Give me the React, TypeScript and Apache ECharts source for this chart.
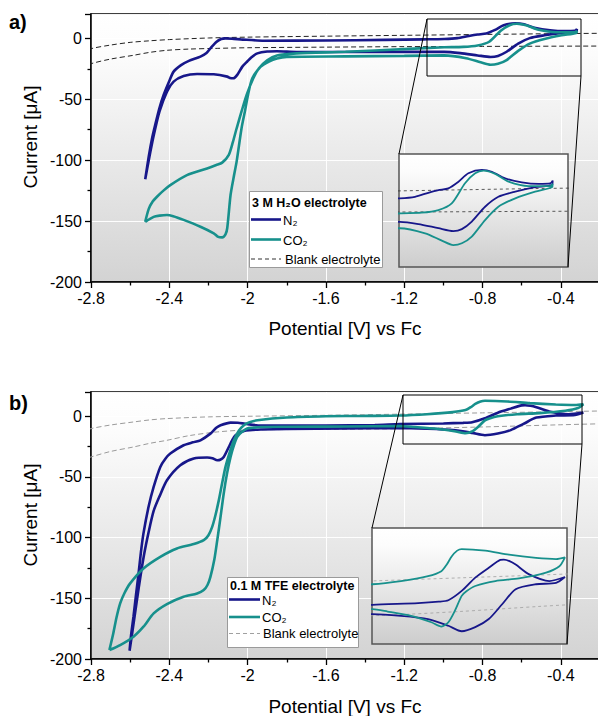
import React, { useEffect, useRef } from "react";
import * as echarts from "echarts";

type P = [number, number];

// ---------- axis ticks ----------
const X_MIN = -2.8;
const X_MAX = -0.2;
const X_STEP = 0.4;
const Y_MIN = -200;
const Y_MAX = 20;
const Y_STEP = 50;

// ---------- panel a) 3 M H2O electrolyte ----------
const N2_A: P[] = [
  [-2.523, -115.6], [-2.505, -97], [-2.488, -82], [-2.472, -71], [-2.45, -57], [-2.429, -46.5],
  [-2.4, -35], [-2.378, -27.3], [-2.34, -22], [-2.3, -18.5], [-2.241, -15], [-2.21, -12],
  [-2.19, -8.2], [-2.16, -3], [-2.135, -0.5], [-2.113, 0], [-2.07, -0.4], [-2.036, -0.8],
  [-1.916, -1.9], [-1.6, -1.8], [-1.3, -1.2], [-1.1, -0.8], [-0.996, -0.5], [-0.929, 0.2],
  [-0.87, 2], [-0.825, 3.2], [-0.781, 4], [-0.736, 7], [-0.692, 10.8], [-0.632, 12.3],
  [-0.588, 11.5], [-0.529, 8.5], [-0.455, 6.7], [-0.381, 6], [-0.329, 6.2], [-0.318, 7.5],
  [-0.321, 5.5], [-0.396, 4.5], [-0.484, 2.5], [-0.559, 0.2], [-0.618, -4.3], [-0.677, -11],
  [-0.721, -14.4], [-0.759, -15.3], [-0.825, -14], [-0.914, -12.1], [-0.996, -11.1],
  [-1.2, -11.1], [-1.5, -11.2], [-1.75, -11.2], [-1.85, -10.6], [-1.9, -10.8], [-1.95, -12.3],
  [-1.98, -15.5], [-2.002, -19], [-2.027, -23.2], [-2.053, -30], [-2.073, -32.8], [-2.09, -32.5],
  [-2.104, -31.4], [-2.173, -29.5], [-2.258, -29.2], [-2.327, -30.9], [-2.378, -35.5],
  [-2.412, -43.7], [-2.45, -60], [-2.48, -80], [-2.505, -100], [-2.523, -115.6],
];

const CO2_A: P[] = [
  [-2.523, -150.6], [-2.505, -140], [-2.485, -134], [-2.463, -130], [-2.43, -125], [-2.395, -120.5],
  [-2.31, -112.3], [-2.207, -106.8], [-2.16, -104], [-2.13, -102], [-2.096, -95.6], [-2.075, -85],
  [-2.056, -73.8], [-2.031, -60], [-2.005, -46.4], [-1.971, -32.8], [-1.942, -24.6], [-1.9, -18],
  [-1.85, -14], [-1.75, -12.3], [-1.5, -11], [-1.2, -8.8], [-0.996, -7.3], [-0.9, -7],
  [-0.825, -5.8], [-0.766, -2.8], [-0.707, 6.3], [-0.662, 10.8], [-0.625, 12], [-0.573, 10.5],
  [-0.514, 7], [-0.425, 5], [-0.329, 5], [-0.318, 6], [-0.321, 4.5], [-0.396, 2.5],
  [-0.484, -0.5], [-0.559, -4.3], [-0.618, -10.3], [-0.677, -17.8], [-0.721, -20.8],
  [-0.759, -21.6], [-0.81, -19.6], [-0.884, -16.3], [-0.996, -14], [-1.2, -14.4], [-1.5, -14.8],
  [-1.8, -15.2], [-1.85, -16.5], [-1.891, -19], [-1.933, -23.2], [-1.976, -32.8], [-1.998, -46.4],
  [-2.014, -60], [-2.031, -73.8], [-2.056, -101], [-2.07, -113], [-2.087, -128.4],
  [-2.104, -155.7], [-2.113, -161], [-2.13, -163.4], [-2.15, -163], [-2.173, -160],
  [-2.241, -154.6], [-2.327, -149], [-2.38, -146], [-2.412, -145], [-2.45, -145.5],
  [-2.48, -146.5], [-2.523, -150.6],
];

const BLANK_A_UP: P[] = [
  [-2.85, -12], [-2.8, -8.5], [-2.7, -5.5], [-2.6, -3.3], [-2.5, -2], [-2.4, -1], [-2.2, 0.3],
  [-2.0, 1], [-1.6, 1.8], [-1.2, 2.5], [-0.8, 3.2], [-0.4, 3.9], [-0.15, 4.2],
];
const BLANK_A_LO: P[] = [
  [-2.85, -24], [-2.8, -20.8], [-2.7, -17], [-2.583, -13.9], [-2.5, -11.5], [-2.412, -9.8],
  [-2.3, -8.8], [-2.155, -8.2], [-2.0, -7.7], [-1.6, -7.2], [-1.2, -6.8], [-0.8, -6.6],
  [-0.4, -6.4], [-0.15, -6.3],
];

// ---------- panel b) 0.1 M TFE electrolyte ----------
const N2_B: P[] = [
  [-2.603, -193.2], [-2.595, -180], [-2.583, -165.2], [-2.57, -147], [-2.557, -129.5],
  [-2.545, -112], [-2.532, -96.5], [-2.506, -74.6], [-2.48, -58.2], [-2.446, -41.7],
  [-2.42, -35], [-2.395, -30.7], [-2.327, -23.9], [-2.28, -21.5], [-2.241, -19.8], [-2.19, -14.3],
  [-2.16, -9.5], [-2.138, -7.4], [-2.087, -5.2], [-2.05, -5.4], [-2.019, -6], [-1.95, -7.4],
  [-1.6, -7.6], [-1.35, -7.2], [-1.223, -6.5], [-1.0, -5.9], [-0.9, -5.4], [-0.853, -4.9],
  [-0.788, -1.7], [-0.722, 2.9], [-0.656, 6.3], [-0.6, 9], [-0.583, 9.1], [-0.555, 8.6],
  [-0.525, 7.4], [-0.459, 4], [-0.361, 1.7], [-0.285, 3.1], [-0.328, 1.1], [-0.426, 0.6],
  [-0.525, -1.1], [-0.591, -6.3], [-0.656, -11.4], [-0.722, -14.2], [-0.788, -15.6],
  [-0.853, -13.7], [-0.952, -11.4], [-1.084, -10.3], [-1.223, -9.7], [-1.5, -10], [-1.8, -10.5],
  [-1.933, -10.9], [-1.99, -11.4], [-2.019, -12.1], [-2.062, -15.6], [-2.08, -20], [-2.096, -25.3],
  [-2.122, -33.5], [-2.14, -35.8], [-2.155, -36.2], [-2.18, -34.5], [-2.207, -34], [-2.275, -34.8],
  [-2.344, -40.3], [-2.412, -52.7], [-2.45, -66], [-2.48, -78], [-2.505, -95], [-2.53, -115],
  [-2.555, -140], [-2.58, -168], [-2.603, -193.2],
];

const CO2_B: P[] = [
  [-2.706, -192.6], [-2.686, -178.8], [-2.67, -166], [-2.651, -154.2], [-2.63, -146], [-2.6, -137.7],
  [-2.532, -125.4], [-2.446, -115.8], [-2.361, -108.9], [-2.275, -105.3], [-2.224, -102.1],
  [-2.2, -98], [-2.181, -91.1], [-2.165, -82], [-2.147, -69.1], [-2.13, -55], [-2.113, -41.7],
  [-2.09, -29], [-2.07, -19.8], [-2.045, -12], [-2.019, -7.4], [-1.99, -5], [-1.95, -3.3],
  [-1.8, -1], [-1.6, 0], [-1.4, 0.3], [-1.223, 0.6], [-1.084, 1.7], [-0.952, 3.4], [-0.887, 5.1],
  [-0.86, 7.5], [-0.837, 10.2], [-0.81, 12.2], [-0.788, 12.75], [-0.673, 12.2], [-0.558, 10.8],
  [-0.426, 9.7], [-0.328, 9.3], [-0.285, 9.9], [-0.312, 6.8], [-0.377, 4.6], [-0.509, 2.6],
  [-0.624, 1.7], [-0.722, 0], [-0.765, -1.8], [-0.788, -3.4], [-0.821, -8.5], [-0.853, -12.5],
  [-0.887, -14], [-0.936, -12.5], [-1.034, -10.3], [-1.149, -8.8], [-1.223, -8], [-1.5, -8.4],
  [-1.8, -8.6], [-1.933, -8.8], [-1.975, -9.5], [-2.002, -10.1], [-2.03, -13], [-2.053, -17],
  [-2.07, -24], [-2.087, -33.5], [-2.105, -47], [-2.122, -63.6], [-2.14, -85], [-2.155, -102],
  [-2.17, -118], [-2.19, -132.3], [-2.205, -139], [-2.224, -143.2], [-2.258, -146],
  [-2.327, -148.7], [-2.412, -154.7], [-2.48, -162.4], [-2.532, -173.4], [-2.583, -181.6],
  [-2.651, -188.5], [-2.706, -192.6],
];

const BLANK_B_UP: P[] = [
  [-2.85, -13], [-2.8, -10.2], [-2.7, -7.2], [-2.583, -4.7], [-2.5, -3], [-2.412, -1.9],
  [-2.2, -0.5], [-2.0, 0], [-1.6, 0.8], [-1.2, 1.8], [-0.8, 2.8], [-0.4, 3.8], [-0.15, 4.5],
];
const BLANK_B_LO: P[] = [
  [-2.85, -36], [-2.8, -33.5], [-2.7, -29], [-2.583, -25.3], [-2.5, -22.3], [-2.412, -19.8],
  [-2.3, -16], [-2.155, -12.9], [-2.0, -11.3], [-1.6, -10.8], [-1.2, -10.2], [-0.8, -8.8],
  [-0.4, -7], [-0.15, -6],
];

// inset ranges [xmin, xmax, ymin, ymax]
const INSET_A_RANGE = [-1.0, -0.25, -31.5, 19.5];
const INSET_B_RANGE = [-1.225, -0.275, -20, 20];

const NAVY = "#17178a";
const TEAL = "#17908c";
const FONT = "'Liberation Sans', Arial, Helvetica, sans-serif";

export default function App() {
  const ref = useRef<HTMLDivElement>(null);

  useEffect(() => {
    if (!ref.current) return;
    const chart = echarts.init(ref.current, null, { renderer: "svg" });

    const grad = (bottom: string) =>
      new echarts.graphic.LinearGradient(0, 0, 0, 1, [
        { offset: 0, color: "#ffffff" },
        { offset: 0.15, color: "#fcfcfc" },
        { offset: 1, color: bottom },
      ]);

    const mainX = (gi: number) => ({
      type: "value",
      gridIndex: gi,
      min: X_MIN,
      max: X_MAX,
      interval: X_STEP,
      axisLine: { show: true, onZero: false, lineStyle: { color: "#000", width: 1.5 } },
      axisTick: { show: true, length: 6, lineStyle: { color: "#000", width: 1.3 } },
      minorTick: { show: true, splitNumber: 2, length: 3.5, lineStyle: { color: "#000", width: 1.3 } },
      axisLabel: {
        show: true,
        color: "#000",
        fontSize: 16,
        fontFamily: FONT,
        margin: 8,
        showMaxLabel: false,
        formatter: (v: number) => String(Math.round(v * 10) / 10),
      },
      splitLine: { show: true, lineStyle: { color: "rgba(255,255,255,0.95)", width: 1 } },
    });
    const mainY = (gi: number) => ({
      type: "value",
      gridIndex: gi,
      min: Y_MIN,
      max: Y_MAX,
      interval: Y_STEP,
      axisLine: { show: true, onZero: false, lineStyle: { color: "#000", width: 1.5 } },
      axisTick: { show: true, length: 6, lineStyle: { color: "#000", width: 1.3 } },
      minorTick: { show: true, splitNumber: 2, length: 3.5, lineStyle: { color: "#000", width: 1.3 } },
      axisLabel: {
        show: true,
        color: "#000",
        fontSize: 16,
        fontFamily: FONT,
        margin: 9,
        showMaxLabel: false,
        formatter: (v: number) => String(Math.round(v)),
      },
      splitLine: { show: true, lineStyle: { color: "rgba(255,255,255,0.95)", width: 1 } },
    });
    const insetX = (gi: number, r: number[]) => ({
      type: "value", gridIndex: gi, min: r[0], max: r[1], show: false,
      axisLine: { onZero: false }, splitLine: { show: false },
    });
    const insetY = (gi: number, r: number[]) => ({
      type: "value", gridIndex: gi, min: r[2], max: r[3], show: false,
      axisLine: { onZero: false }, splitLine: { show: false },
    });

    const line = (
      name: string, data: P[], color: string, width: number, ai: number,
      dash: number[] | null, z: number
    ) => ({
      type: "line",
      name,
      data,
      xAxisIndex: ai,
      yAxisIndex: ai,
      showSymbol: false,
      symbol: "none",
      smooth: dash ? 0.3 : 0.25,
      clip: true,
      z,
      lineStyle: { color, width, type: dash ? dash : "solid" },
      emphasis: { disabled: true },
    });

    const panelSeries = (
      n2: P[], co2: P[], up: P[], lo: P[], ai: number, w: number,
      blankColor: string, dash: number[], bw: number, zBase: number
    ) => [
      line("Blank electrolyte", up, blankColor, bw, ai, dash, zBase),
      line("Blank electrolyte", lo, blankColor, bw, ai, dash, zBase),
      line("N₂", n2, NAVY, w, ai, null, zBase + 1),
      line("CO₂", co2, TEAL, w, ai, null, zBase + 1),
    ];

    const txt = (text: string, x: number, y: number, size: number, extra: any = {}, el: any = {}) => ({
      type: "text",
      x,
      y,
      z: 100,
      ...el,
      style: {
        text,
        fill: "#000",
        fontSize: size,
        fontFamily: FONT,
        textAlign: "left",
        textVerticalAlign: "middle",
        ...extra,
      },
    });
    const seg = (x1: number, y1: number, x2: number, y2: number, stroke: string, lw: number, dash?: number[]) => ({
      type: "line",
      z: 100,
      shape: { x1, y1, x2, y2 },
      style: { stroke, lineWidth: lw, lineDash: dash },
    });
    const box = (x: number, y: number, w: number, h: number, fill: string, stroke: string, lw: number) => ({
      type: "rect",
      z: 99,
      shape: { x, y, width: w, height: h },
      style: { fill, stroke, lineWidth: lw },
    });

    const option: any = {
      animation: false,
      backgroundColor: "#ffffff",
      grid: [
        { left: 91, top: 14, width: 509, height: 268, show: true, backgroundColor: grad("#d3d3d3"), borderColor: "#000", borderWidth: 1.5, containLabel: false, outerBoundsMode: "none" },
        { left: 399, top: 154, width: 169, height: 113, show: true, backgroundColor: grad("#cdcdcd"), borderColor: "#555", borderWidth: 1.5, containLabel: false, outerBoundsMode: "none", z: 5 },
        { left: 91, top: 392, width: 509, height: 267, show: true, backgroundColor: grad("#d3d3d3"), borderColor: "#000", borderWidth: 1.5, containLabel: false, outerBoundsMode: "none" },
        { left: 372, top: 528, width: 195, height: 116, show: true, backgroundColor: grad("#cdcdcd"), borderColor: "#555", borderWidth: 1.5, containLabel: false, outerBoundsMode: "none", z: 5 },
      ],
      xAxis: [mainX(0), insetX(1, INSET_A_RANGE), mainX(2), insetX(3, INSET_B_RANGE)],
      yAxis: [mainY(0), insetY(1, INSET_A_RANGE), mainY(2), insetY(3, INSET_B_RANGE)],
      series: [
        ...panelSeries(N2_A, CO2_A, BLANK_A_UP, BLANK_A_LO, 0, 2.6, "#222", [5, 3], 1, 2),
        ...panelSeries(N2_A, CO2_A, BLANK_A_UP, BLANK_A_LO, 1, 1.8, "#333", [3, 3], 0.8, 10),
        ...panelSeries(N2_B, CO2_B, BLANK_B_UP, BLANK_B_LO, 2, 2.6, "#9a9a9a", [5, 3], 1, 2),
        ...panelSeries(N2_B, CO2_B, BLANK_B_UP, BLANK_B_LO, 3, 1.8, "#a0a0a0", [3, 3], 0.8, 10),
      ],
      graphic: {
        elements: [
          // panel labels
          txt("a)", 9, 22, 20, { fontWeight: "bold" }),
          txt("b)", 9, 403, 20, { fontWeight: "bold" }),
          // axis titles
          txt("Current [μA]", 30, 137, 19, { textAlign: "center" }, { rotation: Math.PI / 2 }),
          txt("Current [μA]", 30, 515, 19, { textAlign: "center" }, { rotation: Math.PI / 2 }),
          txt("Potential [V] vs Fc", 345, 328, 19, { textAlign: "center" }),
          txt("Potential [V] vs Fc", 345, 706, 19, { textAlign: "center" }),
          // zoom boxes and connectors (a)
          box(427, 19, 154, 57, "rgba(0,0,0,0)", "#000", 1),
          seg(427, 19, 399, 154, "#000", 1),
          seg(581, 76, 568, 267, "#000", 1),
          // zoom boxes and connectors (b)
          box(403, 395, 179, 49, "rgba(0,0,0,0)", "#000", 1),
          seg(403, 395, 372, 528, "#000", 1),
          seg(582, 444, 567, 644, "#000", 1),
          // legend a
          box(249.5, 191.5, 133, 76, "#ffffff", "#9a9a9a", 1),
          txt("3 M H₂O electrolyte", 252, 203, 12.5, { fontWeight: "bold" }),
          seg(251, 219.5, 281, 219.5, NAVY, 2.6),
          txt("N₂", 283, 220, 13),
          seg(251, 239.5, 281, 239.5, TEAL, 2.6),
          txt("CO₂", 283, 240, 13),
          seg(251, 259, 281, 259, "#333", 1, [4, 3]),
          txt("Blank electrolyte", 285, 259, 13),
          // legend b
          box(227.5, 577.5, 131, 70, "#ffffff", "#9a9a9a", 1),
          txt("0.1 M TFE electrolyte", 230, 586, 12.5, { fontWeight: "bold" }),
          seg(229, 599.5, 260, 599.5, NAVY, 2.6),
          txt("N₂", 262, 600, 13),
          seg(229, 617, 260, 617, TEAL, 2.6),
          txt("CO₂", 262, 617, 13),
          seg(229, 633.5, 260, 633.5, "#a0a0a0", 1, [4, 3]),
          txt("Blank electrolyte", 263, 633.5, 13),
        ],
      },
    };

    chart.setOption(option);
    return () => chart.dispose();
  }, []);

  return (
    <div
      ref={ref}
      style={{ position: "absolute", left: 0, top: 0, width: 598, height: 716 }}
    />
  );
}
